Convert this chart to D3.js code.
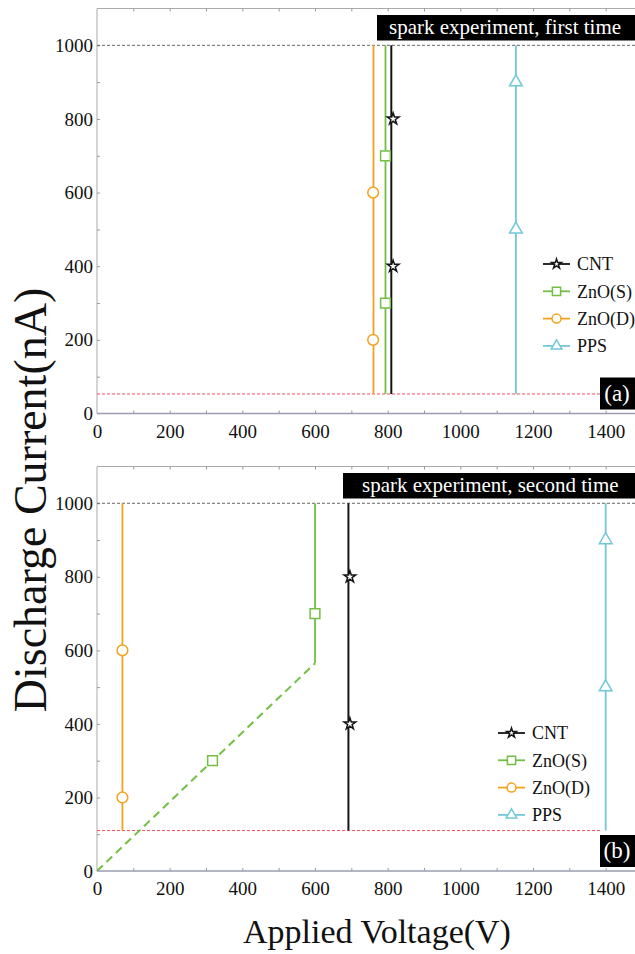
<!DOCTYPE html>
<html>
<head>
<meta charset="utf-8">
<script src="https://cdn.jsdelivr.net/npm/d3@7"></script>
<style>
  body { margin: 0; background: #fff; }
  svg text { font-family: "Liberation Serif", "Times New Roman", serif; fill: #111; }
</style>
</head>
<body>
<div id="chart"></div>
<script>
// series
const seriesNames = ["CNT", "ZnO(S)", "ZnO(D)", "PPS"];
const seriesColors = ["#151515", "#72bf44", "#f6a21c", "#72c8d8"];
const seriesSymbols = [d3.symbolStar, d3.symbolSquare, d3.symbolCircle, d3.symbolTriangle];
const symbolSizes = [42, 95, 90, 70];

const xTicks = [0, 200, 400, 600, 800, 1000, 1200, 1400];
const yTicks = [0, 200, 400, 600, 800, 1000];
const limitCurrent = 1000;

// panel (a) - first time
const aLineX = [810, 794, 761, 1153];
const aPoints = [
  [[815, 400], [815, 800]],
  [[794, 300], [794, 700]],
  [[760, 200], [760, 600]],
  [[1153, 500], [1153, 900]]
];
const aLineFrom = [53, 53, 53, 53];
const aThreshold = 53;

// panel (b) - second time
const bLineX = [692, 600, 70, 1400];
const bPoints = [
  [[696, 400], [696, 800]],
  [[318, 300], [600, 700]],
  [[70, 200], [70, 600]],
  [[1400, 500], [1400, 900]]
];
const bLineFrom = [110, 565, 110, 110];
const bThreshold = 110;
const bZnoRamp = [[0, 0], [600, 565]];

const width = 635, height = 954;
const serif = '"Liberation Serif", "Times New Roman", serif';
const svg = d3.select("#chart").append("svg")
    .attr("width", width)
    .attr("height", height);

const x = d3.scaleLinear().domain([0, 1500]).range([97, 642]);

function drawPanel(cfg) {
    const y = d3.scaleLinear().domain([0, 1100]).range([cfg.bottom, cfg.top]);
    const g = svg.append("g");

    // frame
    g.append("line").attr("x1", x(0)).attr("x2", width).attr("y1", cfg.top).attr("y2", cfg.top)
        .attr("stroke", "#aaa").attr("stroke-width", 1);
    g.append("line").attr("x1", x(0)).attr("x2", x(0)).attr("y1", cfg.top).attr("y2", cfg.bottom)
        .attr("stroke", "#aaa").attr("stroke-width", 1);

    const minorX = d3.range(100, 1500, 100);
    const minorY = d3.range(100, 1100, 100);

    // ticks inward
    g.append("g").attr("transform", `translate(0,${cfg.bottom})`)
        .call(d3.axisBottom(x).tickValues(minorX).tickSize(-3).tickFormat(""))
        .call(a => a.select(".domain").remove())
        .selectAll("line").attr("stroke", "#999");
    g.append("g").attr("transform", `translate(0,${cfg.top})`)
        .call(d3.axisTop(x).tickValues(minorX).tickSize(-3).tickFormat(""))
        .call(a => a.select(".domain").remove())
        .selectAll("line").attr("stroke", "#999");
    g.append("g").attr("transform", `translate(${x(0)},0)`)
        .call(d3.axisLeft(y).tickValues(minorY).tickSize(-3).tickFormat(""))
        .call(a => a.select(".domain").remove())
        .selectAll("line").attr("stroke", "#999");

    const xAxis = g.append("g").attr("transform", `translate(0,${cfg.bottom})`)
        .call(d3.axisBottom(x).tickValues(xTicks).tickSize(0).tickPadding(0).tickFormat(d3.format("d")));
    xAxis.select(".domain").remove();
    xAxis.selectAll("text").attr("font-size", 19).attr("dy", 0).attr("y", 24)
        .style("font-family", serif).style("fill", "#111");

    const yAxis = g.append("g").attr("transform", `translate(${x(0)},0)`)
        .call(d3.axisLeft(y).tickValues(yTicks).tickSize(0).tickPadding(4).tickFormat(d3.format("d")));
    yAxis.select(".domain").remove();
    yAxis.selectAll("text").attr("font-size", 19)
        .style("font-family", serif).style("fill", "#111");

    // limit lines
    g.append("line").attr("x1", x(0)).attr("x2", width)
        .attr("y1", y(limitCurrent)).attr("y2", y(limitCurrent))
        .attr("stroke", "#666").attr("stroke-width", 1).attr("stroke-dasharray", "3,2");
    g.append("line").attr("x1", x(0)).attr("x2", cfg.tagX)
        .attr("y1", y(cfg.threshold)).attr("y2", y(cfg.threshold))
        .attr("stroke", "#f0505e").attr("stroke-width", 1).attr("stroke-dasharray", "3,2");

    if (cfg.ramp) {
        g.append("line")
            .attr("x1", x(cfg.ramp[0][0])).attr("y1", y(cfg.ramp[0][1]))
            .attr("x2", x(cfg.ramp[1][0])).attr("y2", y(cfg.ramp[1][1]))
            .attr("stroke", seriesColors[1]).attr("stroke-width", 2).attr("stroke-dasharray", "8,5");
    }

    // vertical breakdown lines
    cfg.lineX.forEach((v, i) => {
        g.append("line")
            .attr("x1", x(v)).attr("x2", x(v))
            .attr("y1", y(cfg.lineFrom[i])).attr("y2", y(limitCurrent))
            .attr("stroke", seriesColors[i]).attr("stroke-width", i === 0 ? 2 : 1.8);
    });

    // markers
    cfg.points.forEach((pts, i) => {
        g.selectAll(null).data(pts).enter().append("path")
            .attr("d", d3.symbol().type(seriesSymbols[i]).size(symbolSizes[i]))
            .attr("transform", d => `translate(${x(d[0])},${y(d[1])})`)
            .attr("fill", "#fff").attr("stroke", seriesColors[i]).attr("stroke-width", 1.5);
    });

    // title box
    g.append("rect").attr("x", cfg.titleX).attr("y", cfg.top + 6.5)
        .attr("width", width - cfg.titleX + 5).attr("height", 25.5).attr("fill", "#000");
    g.append("text").attr("x", cfg.titleX + cfg.titlePad).attr("y", cfg.top + 25.5)
        .attr("font-size", 21).style("fill", "#fff")
        .text(cfg.title);

    // panel tag
    g.append("rect").attr("x", cfg.tagX).attr("y", cfg.bottom - 36)
        .attr("width", width - cfg.tagX + 5).attr("height", 32).attr("fill", "#000");
    g.append("text").attr("x", cfg.tagX + 17).attr("y", cfg.bottom - 13)
        .attr("text-anchor", "middle").attr("font-size", 23).style("fill", "#fff")
        .text(cfg.tag);

    // legend
    const leg = g.append("g").attr("transform", `translate(${cfg.legX},${cfg.legY})`);
    seriesNames.forEach((name, i) => {
        const row = leg.append("g").attr("transform", `translate(0,${i * 27.3})`);
        row.append("line").attr("x1", 0).attr("x2", 27).attr("y1", 0).attr("y2", 0)
            .attr("stroke", seriesColors[i]).attr("stroke-width", 1.8);
        row.append("path")
            .attr("d", d3.symbol().type(seriesSymbols[i]).size(symbolSizes[i] * 0.7))
            .attr("transform", "translate(13.5,0)")
            .attr("fill", "#fff").attr("stroke", seriesColors[i]).attr("stroke-width", 1.5);
        row.append("text").attr("x", 34).attr("y", 0).attr("dy", "0.35em")
            .attr("font-size", 18).text(name);
    });

    // bottom axis line drawn last
    g.append("line").attr("x1", x(0)).attr("x2", width).attr("y1", cfg.bottom).attr("y2", cfg.bottom)
        .attr("stroke", "#9a9db2").attr("stroke-width", 1.5);
}

drawPanel({
    top: 8.5, bottom: 413.5,
    lineX: aLineX, lineFrom: aLineFrom, points: aPoints, threshold: aThreshold,
    title: "spark experiment, first time", titleX: 377, titlePad: 12,
    tag: "(a)", tagX: 600,
    legX: 543, legY: 264
});

drawPanel({
    top: 466.5, bottom: 871,
    lineX: bLineX, lineFrom: bLineFrom, points: bPoints, threshold: bThreshold,
    ramp: bZnoRamp,
    title: "spark experiment, second time", titleX: 343, titlePad: 19,
    tag: "(b)", tagX: 600,
    legX: 498, legY: 733
});

// axis titles
svg.append("text").attr("x", 377).attr("y", 943)
    .attr("text-anchor", "middle").attr("font-size", 34)
    .text("Applied Voltage(V)");
svg.append("text")
    .attr("transform", "translate(46,500) rotate(-90)")
    .attr("text-anchor", "middle").attr("font-size", 46)
    .text("Discharge Current(nA)");
</script>
</body>
</html>
